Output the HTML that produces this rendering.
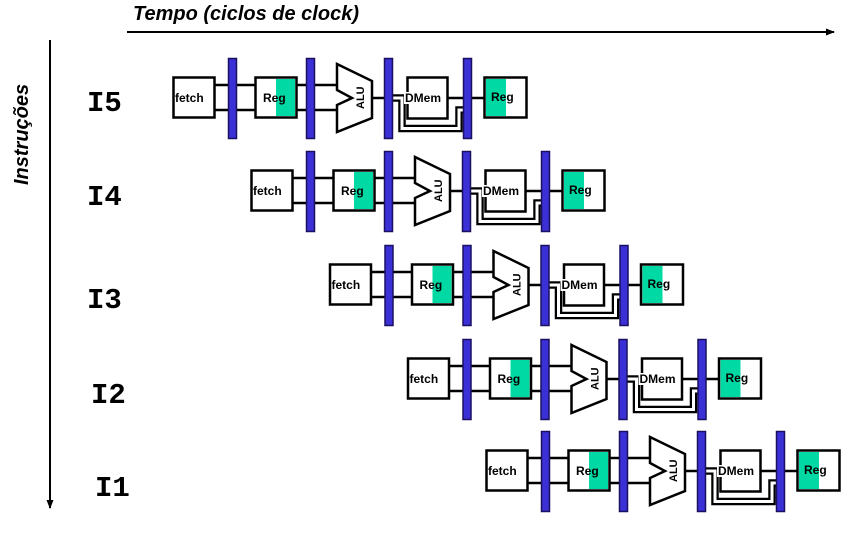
<!DOCTYPE html>
<html><head><meta charset="utf-8"><style>
html,body{margin:0;padding:0;background:#fff;}
svg{display:block;}
text{font-family:"Liberation Sans",sans-serif;}
</style></head><body>
<svg width="849" height="543" viewBox="0 0 849 543" xmlns="http://www.w3.org/2000/svg">
<defs>
<g id="row">
  <!-- connecting lines -->
  <g stroke="#000" stroke-width="2.5" fill="none">
    <line x1="215" y1="85" x2="255" y2="85"/>
    <line x1="215" y1="110" x2="255" y2="110"/>
    <line x1="296" y1="85" x2="338" y2="85"/>
    <line x1="296" y1="110" x2="338" y2="110"/>
    <line x1="372" y1="98" x2="407" y2="98"/>
    <line x1="447" y1="98" x2="484" y2="98"/>
  </g>
  <path d="M391,98 H402 V128.5 H459 V110 H464" stroke="#000" stroke-width="7.5" fill="none"/>
  <path d="M391,98 H402 V128.5 H459 V110 H464" stroke="#fff" stroke-width="3" fill="none"/>
  <!-- fetch -->
  <rect x="173.5" y="77.5" width="41" height="40" fill="#fff" stroke="#000" stroke-width="2.5"/>
  <text x="175" y="102" font-size="12" font-weight="bold">fetch</text>
  <!-- Reg -->
  <rect x="255.5" y="77.5" width="41" height="40" fill="#fff" stroke="#000" stroke-width="2.5"/>
  <rect x="276" y="79" width="19" height="37" fill="#00d9a3"/>
  <text x="263" y="102" font-size="12" font-weight="bold">Reg</text>
  <!-- ALU -->
  <polygon points="337,64 372,81 372,118 337,132 337,105 352,98 337,90" fill="#fff" stroke="#000" stroke-width="2.5" stroke-linejoin="miter"/>
  <text x="0" y="0" font-size="11" font-weight="bold" transform="translate(364,109) rotate(-90)">ALU</text>
  <!-- DMem -->
  <rect x="407.5" y="77.5" width="40" height="41" fill="#fff" stroke="#000" stroke-width="2.5"/>
  <rect x="404" y="92" width="5" height="12" fill="#fff"/>
  <text x="405" y="102" font-size="12" font-weight="bold">DMem</text>
  <!-- Reg write -->
  <rect x="484.5" y="77.5" width="42" height="40" fill="#fff" stroke="#000" stroke-width="2.5"/>
  <rect x="486" y="79" width="20" height="37" fill="#00d9a3"/>
  <text x="491" y="101" font-size="12" font-weight="bold">Reg</text>
  <!-- bars -->
  <g fill="#3b2fd6" stroke="#1a1060" stroke-width="1.5">
    <rect x="228.5" y="58.5" width="8" height="80"/>
    <rect x="306.5" y="58.5" width="8" height="80"/>
    <rect x="384.5" y="58.5" width="8" height="80"/>
    <rect x="463.5" y="58.5" width="8" height="80"/>
  </g>
</g>
<marker id="ah" markerWidth="10" markerHeight="10" refX="8" refY="5" orient="auto" markerUnits="userSpaceOnUse">
  <path d="M0,1.5 L9,5 L0,8.5 z" fill="#000"/>
</marker>
</defs>

<text x="133" y="20" font-size="20" font-weight="bold" font-style="italic">Tempo (ciclos de clock)</text>
<line x1="127" y1="32" x2="834" y2="32" stroke="#000" stroke-width="2" marker-end="url(#ah)"/>
<line x1="50" y1="40" x2="50" y2="508" stroke="#000" stroke-width="2" marker-end="url(#ah)"/>
<text font-size="20" font-weight="bold" font-style="italic" transform="translate(28,185) rotate(-90)">Instruções</text>

<g font-family="'Liberation Mono',monospace" font-weight="bold" font-size="29">
  <text x="87" y="111" style="font-family:'Liberation Mono',monospace">I5</text>
  <text x="87" y="205" style="font-family:'Liberation Mono',monospace">I4</text>
  <text x="87" y="308" style="font-family:'Liberation Mono',monospace">I3</text>
  <text x="91" y="403" style="font-family:'Liberation Mono',monospace">I2</text>
  <text x="95" y="496" style="font-family:'Liberation Mono',monospace">I1</text>
</g>

<use href="#row" transform="translate(0,0)"/>
<use href="#row" transform="translate(78,93)"/>
<use href="#row" transform="translate(156.5,187)"/>
<use href="#row" transform="translate(234.5,281)"/>
<use href="#row" transform="translate(313,373)"/>
</svg>
</body></html>
